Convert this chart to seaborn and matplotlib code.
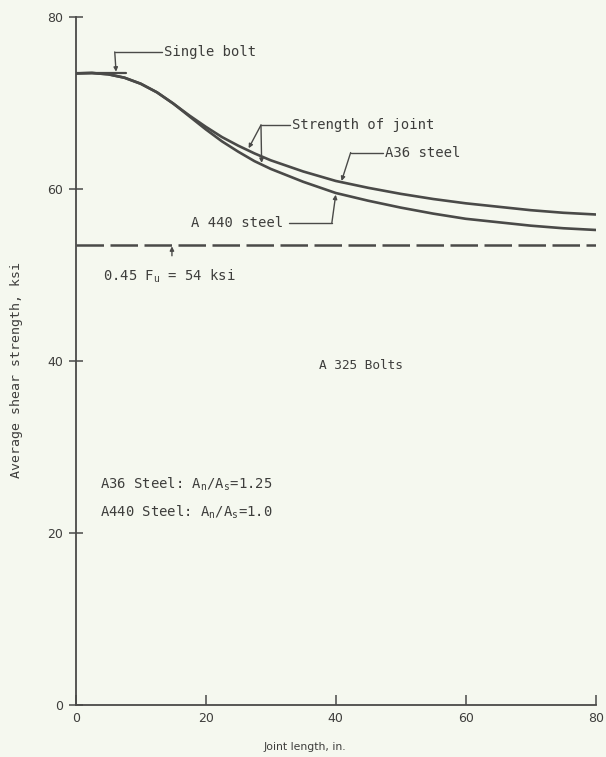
import numpy as np
import pandas as pd
import matplotlib
matplotlib.use("Agg")
import matplotlib.pyplot as plt
import seaborn as sns

# ---- data ----
joint_length = [0, 2.5, 5, 7.5, 10, 12.5, 15, 17.5, 20, 22.5, 25, 27.5, 30,
                35, 40, 45, 50, 55, 60, 65, 70, 75, 80]
a36_strength = [73.4, 73.45, 73.3, 72.9, 72.2, 71.2, 69.9, 68.5, 67.2, 66.0,
                 65.0, 64.1, 63.3, 62.0, 60.9, 60.1, 59.4, 58.8, 58.3, 57.9,
                 57.5, 57.2, 57.0]
a440_strength = [73.4, 73.45, 73.3, 72.9, 72.2, 71.2, 69.9, 68.4, 66.9, 65.5,
                  64.3, 63.2, 62.3, 60.8, 59.5, 58.6, 57.8, 57.1, 56.5, 56.1,
                  55.7, 55.4, 55.2]
single_bolt_x = [0, 7.8]
single_bolt_y = [73.5, 73.5]
limit_x = [0, 80]
limit_y = [53.4, 53.4]
x_ticks = [0, 20, 40, 60, 80]
y_ticks = [0, 20, 40, 60, 80]

df = pd.DataFrame({
    "x": joint_length * 2,
    "y": a36_strength + a440_strength,
    "steel": ["A36"] * len(joint_length) + ["A440"] * len(joint_length),
})

sns.set_style("ticks")
bg = "#f5f8ef"
ink = "#4a4a48"
txt = "#3e3e3c"
plt.rcParams["font.family"] = ["DejaVu Sans"]
mono = ["DejaVu Sans Mono"]

fig = plt.figure(figsize=(6.06, 7.57), dpi=100, facecolor=bg)
ax = fig.add_axes([0.125, 0.069, 0.858, 0.909], facecolor=bg)

sns.lineplot(data=df, x="x", y="y", hue="steel", palette=[ink, ink],
             linewidth=1.9, legend=False, ax=ax, estimator=None)
sns.lineplot(x=single_bolt_x, y=single_bolt_y, color=ink, linewidth=1.6, ax=ax)
sns.lineplot(x=limit_x, y=limit_y, color=ink, linewidth=1.8, ax=ax)
ax.lines[-1].set_dashes([11, 2.6])

ax.set_xlim(0, 80)
ax.set_ylim(0, 80)
ax.set_xticks(x_ticks)
ax.set_yticks(y_ticks)
ax.tick_params(axis="x", direction="in", length=7, width=1.1, colors=ink,
               labelcolor=txt, labelsize=9, pad=5)
ax.tick_params(axis="y", direction="inout", length=10, width=1.1, colors=ink,
               labelcolor=txt, labelsize=9, pad=4)
for s in ["top", "right"]:
    ax.spines[s].set_visible(False)
for s in ["left", "bottom"]:
    ax.spines[s].set_color(ink)
    ax.spines[s].set_linewidth(1.3)

ax.set_xlabel("Joint length, in.", fontsize=7.8, color=txt)
ax.xaxis.set_label_coords(0.44, -0.054)
ax.set_ylabel("Average shear strength, ksi", fontsize=9.5, color=txt,
              family=mono)
ax.yaxis.set_label_coords(-0.102, 0.487)

fs = 10
lw = 1.0
ap = dict(arrowstyle="-|>", color=ink, lw=lw, shrinkA=0, shrinkB=0,
          mutation_scale=6)

# Single bolt
ax.text(13.6, 75.9, "Single bolt", fontsize=fs, color=txt, va="center",
        family=mono)
ax.plot([6.0, 13.2], [75.9, 75.9], color=ink, lw=lw)
ax.annotate("", xy=(6.2, 73.6), xytext=(6.0, 75.9), arrowprops=ap)

# Strength of joint
ax.text(33.3, 67.4, "Strength of joint", fontsize=fs, color=txt, va="center",
        family=mono)
ax.plot([28.5, 33.0], [67.4, 67.4], color=ink, lw=lw)
ax.annotate("", xy=(26.6, 64.7), xytext=(28.5, 67.4), arrowprops=ap)
ax.annotate("", xy=(28.6, 63.0), xytext=(28.5, 67.4), arrowprops=ap)

# A36 steel
ax.text(47.6, 64.2, "A36 steel", fontsize=fs, color=txt, va="center",
        family=mono)
ax.plot([42.3, 47.3], [64.2, 64.2], color=ink, lw=lw)
ax.annotate("", xy=(40.9, 60.9), xytext=(42.3, 64.2), arrowprops=ap)

# A440 steel
ax.text(17.8, 56.0, "A 440 steel", fontsize=fs, color=txt, va="center",
        family=mono)
ax.plot([32.8, 39.4], [56.0, 56.0], color=ink, lw=lw)
ax.annotate("", xy=(40.0, 59.3), xytext=(39.4, 56.0), arrowprops=ap)

# limit
ax.text(4.2, 49.8, r"0.45 F$_{\mathregular{u}}$ = 54 ksi", fontsize=fs,
        color=txt, va="center", family=mono)
ax.annotate("", xy=(14.8, 53.3), xytext=(14.8, 52.2), arrowprops=ap)

ax.text(37.4, 39.4, "A 325 Bolts", fontsize=9.2, color=txt, va="center",
        family=mono)
ax.text(3.8, 25.6, r"A36 Steel: A$_{\mathregular{n}}$/A$_{\mathregular{s}}$=1.25",
        fontsize=fs, color=txt, va="center", family=mono)
ax.text(3.8, 22.4, r"A440 Steel: A$_{\mathregular{n}}$/A$_{\mathregular{s}}$=1.0",
        fontsize=fs, color=txt, va="center", family=mono)

fig.savefig("out.png", dpi=100, facecolor=bg)
